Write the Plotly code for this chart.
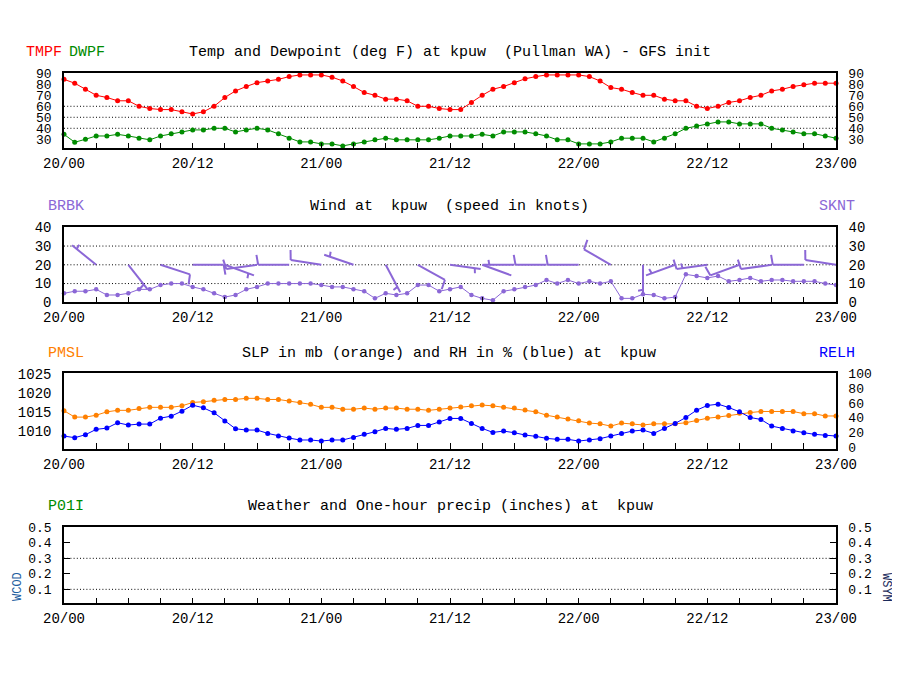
import math
import plotly.graph_objects as go

# ---------------- data (hours since 20/00) ----------------
HOURS = list(range(73))
XTICK_HOURS = list(range(0, 73, 3))
XLABELS = {0: "20/00", 12: "20/12", 24: "21/00", 36: "21/12", 48: "22/00", 60: "22/12", 72: "23/00"}

TMPF = [84.5, 81, 75.5, 70, 68, 65, 65, 60, 58, 57, 57, 55, 53, 55, 60, 68, 74, 78, 81.5, 83,
        84.5, 87, 88.5, 88.5, 88.5, 86.5, 83, 78, 72.5, 70, 66.5, 66.5, 65, 60, 60, 58, 57,
        57, 63.5, 70, 75.5, 78, 81.5, 85, 87, 88.5, 88.5, 88.5, 88.5, 87, 83, 77, 75.5, 72.5,
        70, 70, 66.5, 65, 65, 60, 58, 60, 63.5, 65, 68, 70, 74, 75.5, 78, 79.5, 81, 81, 81]
DWPF = [34.5, 27.3, 30, 33, 33, 34.5, 33, 31, 29.5, 33, 35, 36.7, 38.5, 38.5, 40, 40, 36.7, 38.5,
        40, 38.5, 35, 31, 27.6, 27.6, 25.8, 25.8, 24, 25.8, 27.6, 29.5, 31, 29.5, 29.5, 29.5, 29.5,
        31, 33,
        33, 33, 34.5, 33, 36.7, 36.7, 36.7, 35, 33, 29.5, 29.5, 25.8, 25.8, 25.8, 27.6, 31, 31,
        31, 27.6, 31, 35, 40, 42, 44, 45.8, 45.8, 44, 44, 44, 40, 38.5, 36.7, 35, 35, 33, 31]
SKNT = [4.8, 5.9, 5.9, 6.9, 3.9, 3.9, 4.8, 6.9, 6.9, 9.2, 10, 10, 8.2, 6.9, 4.8, 2.8, 3.9, 6.9,
        8.2, 10, 10, 10, 10, 10, 9.2, 8.2, 8.2, 6.9, 5.9, 2.1, 4.8, 3.9, 4.8, 9.2, 9.2, 5.9, 6.9,
        8.2, 3.9, 2.1, 1.1, 5.9, 6.9, 8.2, 9.2, 11.9, 10, 11.9, 10, 11.2, 10, 11.2, 2.1, 2.1,
        4.3, 3.9, 2.1, 2.8, 14.9, 14, 13, 14, 11.2, 11.9, 13, 11.2, 11.9, 11.9, 11.2, 11.2,
        11.2, 10, 9.2]
BRBK_HOURS = list(range(3, 73, 3))
BRBK_DIR = [309, 142, 108, 90, 110, 262, 270, 279, 289, 152, 119, 98,
            110, 270, 270, 270, 300, 180, 250, 262, 250, 262, 270, 279]
PMSL = [1015.3, 1013.6, 1013.6, 1014.1, 1015, 1015.4, 1015.4, 1015.9, 1016.2, 1016.2, 1016.2,
        1016.6, 1017.5, 1017.7, 1018.1, 1018.3, 1018.3, 1018.6, 1018.6, 1018.3, 1018.3, 1017.9,
        1017.5, 1017, 1016.2, 1016.2, 1015.7, 1015.7, 1016, 1015.7, 1016, 1016, 1015.7, 1015.7,
        1015.4, 1015.7, 1016,
        1016.3, 1016.6, 1016.8, 1016.6, 1016.2, 1016, 1015.5, 1015, 1014.1, 1013.6, 1013.1,
        1012.6, 1012, 1011.8, 1011.2, 1012, 1011.8, 1011.5, 1011.8, 1011.8, 1011.8, 1012.1,
        1012.7, 1013.3, 1013.6, 1014, 1014.6, 1014.8, 1015.1, 1015.1, 1015.1, 1015.1, 1014.5,
        1014.5, 1013.9, 1013.9]
RELH = [15.6, 13.4, 17.4, 24.6, 26.3, 33.5, 30.4, 31.7, 31.7, 39.7, 42.4, 49.1, 57.1, 53.6,
        46.9, 35.7, 25.4, 23.7, 23.7, 19.2, 15.6, 12.9, 10.3, 10.3, 8.9, 10.3, 10.3, 13.8, 17.9,
        21.4, 25.9, 24.6, 25.9, 29.9, 29.9, 34.4, 39.3,
        39.3, 32.6, 25.9, 20.5, 22.3, 20.1, 17, 15.2, 12.5, 11.2, 11.2, 8.9, 10.3, 12.1, 15.6,
        19.2, 22.3, 23.7, 19.2, 25.9, 32.6, 40.6, 50.4, 56.7, 58.5, 54, 48.2, 40.6, 37.9, 29,
        25.9, 22.3, 20.1, 17.9, 16.5, 15.6]

TEMP_TICKS = [30, 40, 50, 60, 70, 80, 90]
TEMP_GRID = [40, 50, 60]
WIND_TICKS = [0, 10, 20, 30, 40]
WIND_GRID = [10, 20, 30]
SLP_TICKS = [1010, 1015, 1020, 1025]
RH_TICKS = [0, 20, 40, 60, 80, 100]
PCP_TICKS = [0.1, 0.2, 0.3, 0.4, 0.5]
PCP_GRID = [0.1, 0.3]

# ---------------- styling ----------------
# page body has an 8px margin, so the figure is laid out in page pixels minus OFF
OFF = 8
W, H = 900 - OFF, 700 - OFF
X0, X1 = 64, 836
PANELS = [(73.3, 148.3), (227.3, 302.3), (373.3, 449.0), (527.3, 603.3)]
FONT = "Liberation Mono"
RED, GREEN, PURPLE, ORANGE, BLUE = "#ff0000", "#008c00", "#8b67d6", "#ff8000", "#0000ff"
DOT = "1px,2.2px"

def px2x(px):
    return (px - OFF) / W

def px2y(py):
    return 1 - (py - OFF) / H

def ydom(p):
    top, bot = p
    return [px2y(bot), px2y(top)]

fig = go.Figure()

def series(x, y, color, xa, ya, size=5):
    fig.add_trace(go.Scatter(x=x, y=y, mode="lines+markers", xaxis=xa, yaxis=ya,
                             line=dict(color=color, width=1),
                             marker=dict(color=color, size=size, symbol="circle"),
                             cliponaxis=False, showlegend=False, hoverinfo="skip"))

series(HOURS, TMPF, RED, "x", "y")
series(HOURS, DWPF, GREEN, "x", "y2")

# wind barbs built from direction + speed, converted through the panel scales
WIND_RANGE = [0, 40]
px_per_h = (X1 - X0) / 72.0
px_per_kt = (PANELS[1][1] - PANELS[1][0]) / (WIND_RANGE[1] - WIND_RANGE[0])
BASE = 20
STAFF, FULL, HALF, SPACE, TILT = 31, 10, 5, 6, 80
bx, by = [], []
for h, d in zip(BRBK_HOURS, BRBK_DIR):
    s = SKNT[h]
    r = math.radians(d)
    ux, uy = math.sin(r), math.cos(r)
    bx += [h, h + STAFF * ux / px_per_h, None]
    by += [BASE, BASE + STAFF * uy / px_per_kt, None]
    sp = int(round(s / 5.0)) * 5
    nfull, half = sp // 10, (sp % 10) == 5
    fr = math.radians(d + TILT)
    fx, fy = math.sin(fr), math.cos(fr)
    feathers = [(i, FULL) for i in range(nfull)]
    if half:
        feathers.append((max(nfull, 1), HALF))
    for i, ln in feathers:
        dist = STAFF - i * SPACE
        sx, sy = h + dist * ux / px_per_h, BASE + dist * uy / px_per_kt
        bx += [sx, sx + ln * fx / px_per_h, None]
        by += [sy, sy + ln * fy / px_per_kt, None]
fig.add_trace(go.Scatter(x=bx, y=by, mode="lines", xaxis="x2", yaxis="y3",
                         line=dict(color=PURPLE, width=2), cliponaxis=False,
                         showlegend=False, hoverinfo="skip"))
series(HOURS, SKNT, PURPLE, "x2", "y4", size=4.5)

series(HOURS, PMSL, ORANGE, "x3", "y5")
series(HOURS, RELH, BLUE, "x3", "y6")

for ya in ("y7", "y8"):
    fig.add_trace(go.Scatter(x=[], y=[], mode="lines", xaxis="x4", yaxis=ya,
                             showlegend=False, hoverinfo="skip"))

tickfont = dict(family=FONT, size=14, color="black")
xbase = dict(domain=[px2x(X0), px2x(X1)], range=[0, 72], tickmode="array", tickvals=XTICK_HOURS,
             ticktext=[XLABELS.get(h, "") for h in XTICK_HOURS], ticks="inside", ticklen=6,
             tickwidth=1, tickcolor="black", showline=True, linecolor="black", linewidth=1.5,
             mirror=True, showgrid=False, zeroline=False, tickfont=tickfont,
             ticklabelstandoff=1, fixedrange=True, automargin=False)

def yaxis(dom, rng, vals, text=None, side="left", overlay=None, anchor="x", ticks="", size=14):
    d = dict(domain=dom, range=rng, tickmode="array", tickvals=vals,
             ticktext=text if text else [str(v) for v in vals], side=side, anchor=anchor,
             showline=True, linecolor="black", linewidth=1.5, showgrid=False, zeroline=False,
             tickfont=dict(tickfont, size=size), ticklabelstandoff=8, ticks=ticks, ticklen=6,
             tickcolor="black", fixedrange=True, automargin=False)
    if overlay:
        d["overlaying"] = overlay
    return d

layout = dict(width=W, height=H, margin=dict(l=0, r=0, t=0, b=0, autoexpand=False),
              paper_bgcolor="white", plot_bgcolor="white", showlegend=False)
for i, p in enumerate(PANELS):
    xa = "xaxis" if i == 0 else f"xaxis{i + 1}"
    layout[xa] = dict(xbase, anchor="y" if i == 0 else f"y{2 * i + 1}")

TEMP_RANGE = [21.8, 90]
layout["yaxis"] = yaxis(ydom(PANELS[0]), TEMP_RANGE, TEMP_TICKS, anchor="x", size=13)
layout["yaxis2"] = yaxis(ydom(PANELS[0]), TEMP_RANGE, TEMP_TICKS, side="right", overlay="y",
                         anchor="x", size=13)
layout["yaxis3"] = yaxis(ydom(PANELS[1]), WIND_RANGE, WIND_TICKS, anchor="x2")
layout["yaxis4"] = yaxis(ydom(PANELS[1]), WIND_RANGE, WIND_TICKS, side="right", overlay="y3", anchor="x2")
layout["yaxis5"] = yaxis(ydom(PANELS[2]), [1005.1, 1025.27], SLP_TICKS, anchor="x3")
layout["yaxis6"] = yaxis(ydom(PANELS[2]), [-1.8, 100], RH_TICKS, side="right", overlay="y5",
                         anchor="x3", size=13)
pcp_text = [f"{v:.1f}" for v in PCP_TICKS]
layout["yaxis7"] = yaxis(ydom(PANELS[3]), [0.01, 0.5], PCP_TICKS, pcp_text, anchor="x4",
                         ticks="inside", size=13)
layout["yaxis8"] = yaxis(ydom(PANELS[3]), [0.01, 0.5], PCP_TICKS, pcp_text, side="right",
                         overlay="y7", anchor="x4", ticks="inside", size=13)

shapes = []
for xref, yref, levels in (("x domain", "y", TEMP_GRID), ("x2 domain", "y3", WIND_GRID),
                           ("x4 domain", "y7", PCP_GRID)):
    for lv in levels:
        shapes.append(dict(type="line", xref=xref, yref=yref, x0=0, x1=1, y0=lv, y1=lv,
                           line=dict(color="black", width=1, dash=DOT), layer="below"))
layout["shapes"] = shapes

def ann(text, px, py, color="black", anchor="left", size=15, angle=0):
    return dict(text=text, x=px2x(px), y=px2y(py), xref="paper", yref="paper", showarrow=False,
                xanchor=anchor, yanchor="middle", textangle=angle,
                font=dict(family=FONT, size=size, color=color))

layout["annotations"] = [
    ann("TMPF", 24, 52, RED), ann("DWPF", 67, 52, GREEN),
    ann("Temp and Dewpoint (deg F) at kpuw  (Pullman WA) - GFS init", 450, 52, anchor="center"),
    ann("BRBK", 46, 206, PURPLE), ann("SKNT", 817, 206, PURPLE),
    ann("Wind at  kpuw  (speed in knots)", 449, 206, anchor="center"),
    ann("PMSL", 46, 353, ORANGE), ann("RELH", 817, 353, BLUE),
    ann("SLP in mb (orange) and RH in % (blue) at  kpuw", 449, 353, anchor="center"),
    ann("P01I", 46, 506, GREEN),
    ann("Weather and One-hour precip (inches) at  kpuw", 450, 506, anchor="center"),
    ann("WCOD", 18, 587, "#1f5f9f", anchor="center", size=12, angle=-90),
    ann("WSYM", 886, 587, "#1a2a5a", anchor="center", size=12, angle=90),
]

fig.update_layout(**layout)
fig.write_html("out.html")
